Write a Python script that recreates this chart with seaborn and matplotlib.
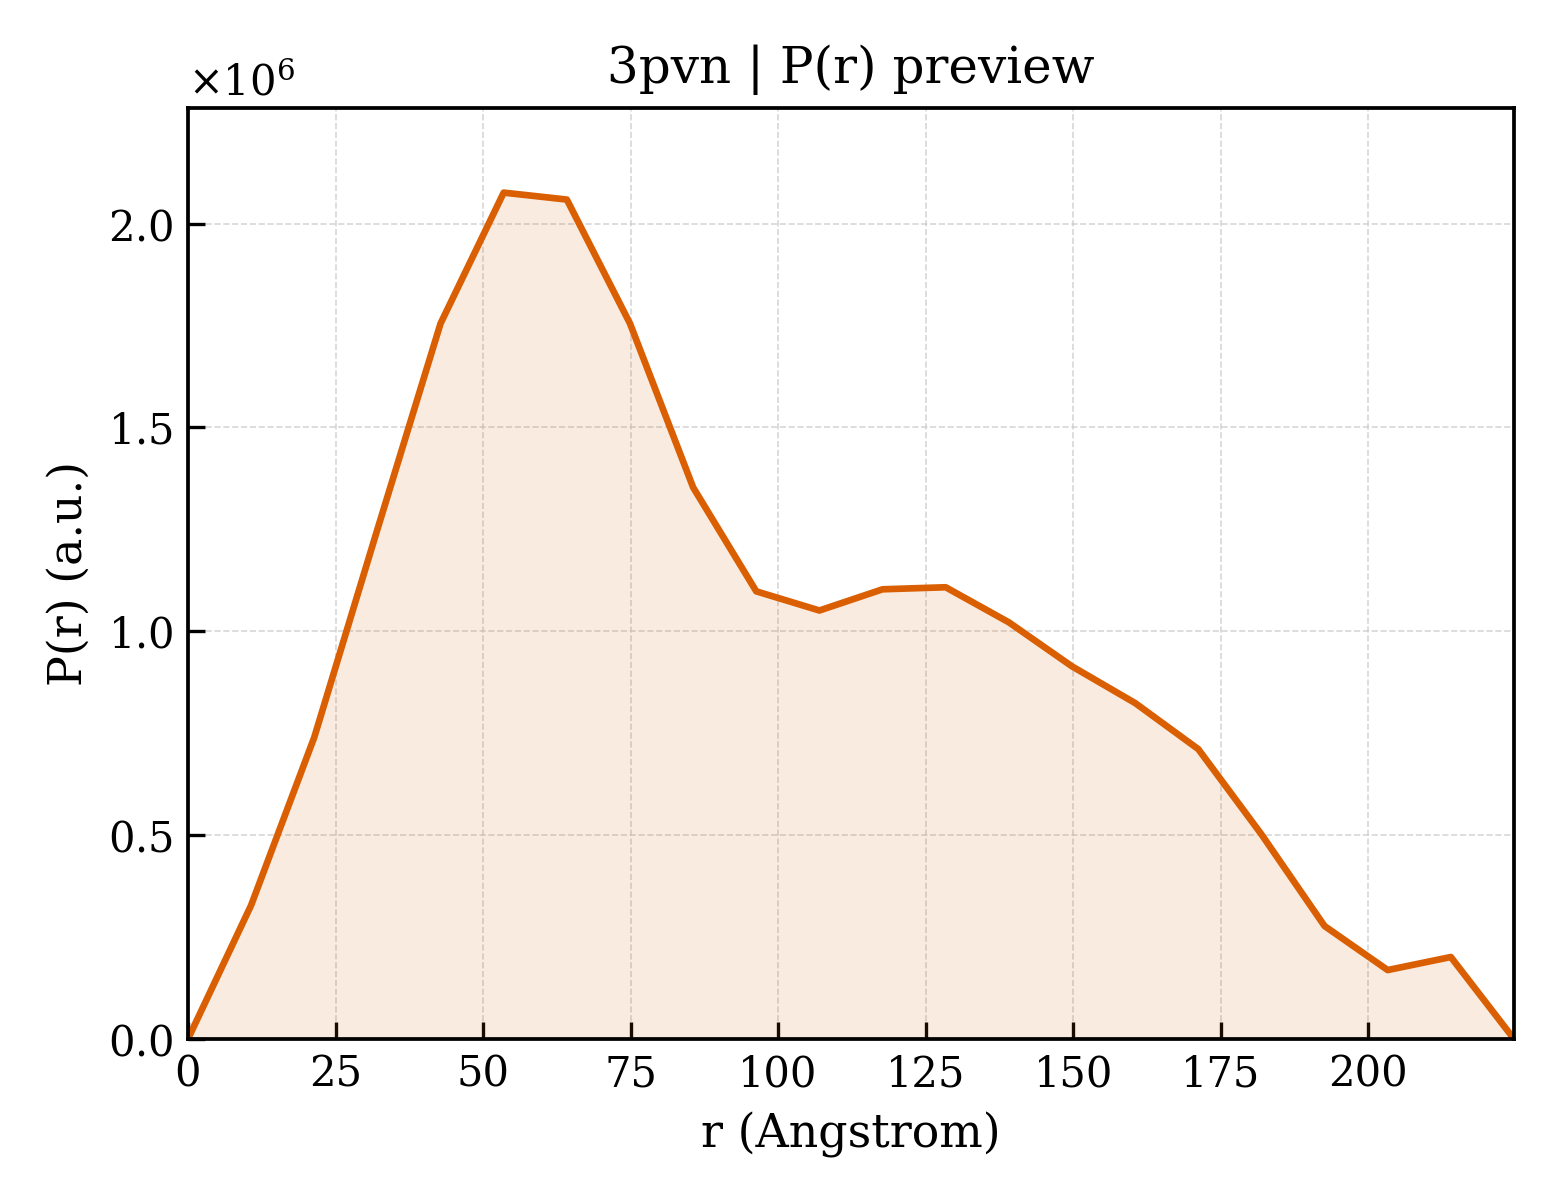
import numpy as np
import pandas as pd
import seaborn as sns
import matplotlib.pyplot as plt

r_values = [0.0, 10.7, 21.4, 32.1, 42.8, 53.5, 64.2, 74.9, 85.6, 96.3, 107.0,
            117.7, 128.4, 139.1, 149.8, 160.5, 171.2, 181.9, 192.6, 203.3, 214.0, 224.7]
pr_values = [0.0, 0.328e6, 0.740e6, 1.250e6, 1.755e6, 2.076e6, 2.059e6, 1.755e6,
             1.353e6, 1.098e6, 1.051e6, 1.103e6, 1.108e6, 1.022e6, 0.914e6,
             0.824e6, 0.711e6, 0.502e6, 0.277e6, 0.169e6, 0.201e6, 0.0]

df = pd.DataFrame({"r": r_values, "P": pr_values})
color = "#d95f02"

sns.set_theme(style="ticks")
plt.rcParams["font.family"] = ["DejaVu Serif"]
plt.rcParams["mathtext.fontset"] = "dejavuserif"
for k in ["text.color", "axes.labelcolor", "xtick.color", "ytick.color"]:
    plt.rcParams[k] = "black"

fig, ax = plt.subplots(figsize=(5.2, 4), dpi=300)
fig.subplots_adjust(left=0.1205, right=0.9705, top=0.91, bottom=0.1342)

sns.lineplot(data=df, x="r", y="P", color=color, linewidth=1.6, ax=ax)
ax.fill_between(df["r"], df["P"], color=color, alpha=0.12, linewidth=0)

ax.set_xlim(0, max(r_values))
ax.set_ylim(0, max(pr_values) * 1.1)
ax.set_xticks([0, 25, 50, 75, 100, 125, 150, 175, 200])
ax.ticklabel_format(axis="y", style="sci", scilimits=(0, 0), useMathText=True)
ax.grid(True, linestyle="--", linewidth=0.4, color="#cccccc", alpha=0.8)
ax.tick_params(direction="in", labelsize=10, length=4, width=0.8, colors="black")
for s in ax.spines.values():
    s.set_linewidth(0.9)
    s.set_color("black")
ax.yaxis.get_offset_text().set_fontsize(10)

ax.set_xlabel("r (Angstrom)", fontsize=11, color="black")
ax.set_ylabel("P(r) (a.u.)", fontsize=11, color="black")
ax.set_title("3pvn | P(r) preview", fontsize=12, color="black")

fig.savefig("out.png", dpi=300)
